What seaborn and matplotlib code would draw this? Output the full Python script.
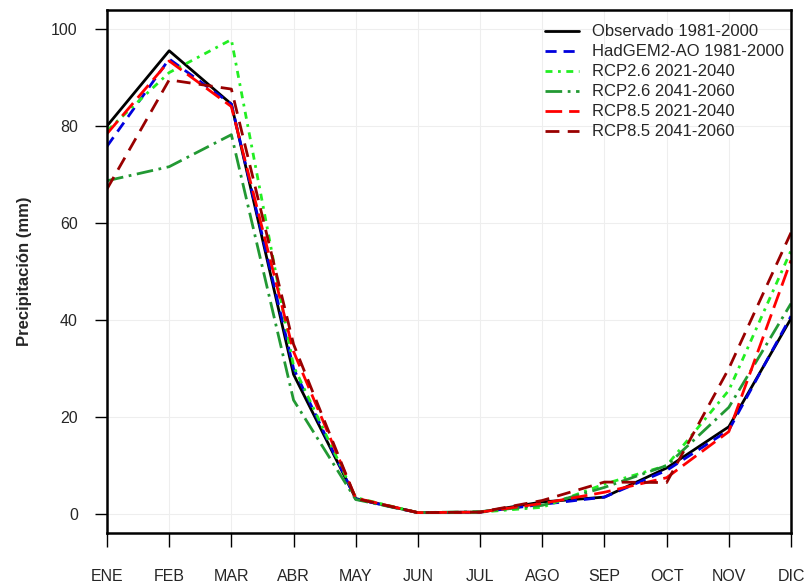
import matplotlib
matplotlib.use("Agg")
import matplotlib.pyplot as plt
import seaborn as sns
import pandas as pd

months = ["ENE", "FEB", "MAR", "ABR", "MAY", "JUN", "JUL", "AGO", "SEP", "OCT", "NOV", "DIC"]
series_names = ["Observado 1981-2000", "HadGEM2-AO 1981-2000", "RCP2.6 2021-2040",
                "RCP2.6 2041-2060", "RCP8.5 2021-2040", "RCP8.5 2041-2060"]
obs = [80.0, 95.5, 84.5, 28.8, 3.2, 0.3, 0.4, 2.5, 3.5, 9.5, 18.0, 40.3]
had = [75.8, 93.8, 84.5, 30.0, 3.1, 0.3, 0.4, 2.0, 3.5, 9.0, 17.3, 40.8]
rcp26_21 = [79.0, 91.0, 97.8, 30.5, 3.4, 0.3, 0.4, 1.4, 6.2, 10.0, 25.5, 54.3]
rcp26_41 = [68.7, 71.6, 78.2, 23.5, 3.0, 0.3, 0.5, 1.8, 5.5, 10.0, 22.0, 43.4]
rcp85_21 = [78.4, 93.4, 84.0, 33.5, 3.3, 0.3, 0.4, 2.2, 4.5, 7.5, 17.0, 52.3]
rcp85_41 = [67.0, 89.5, 87.6, 35.0, 3.2, 0.3, 0.4, 2.8, 6.6, 6.5, 30.0, 58.0]
values = [obs, had, rcp26_21, rcp26_41, rcp85_21, rcp85_41]
yticks = [0, 20, 40, 60, 80, 100]

colors = ["#000000", "#0000DD", "#22EE22", "#229933", "#FF0000", "#990000"]
dashes = ["", (4, 2.5), (2.5, 2, 1, 2), (6, 2, 1, 2), (6, 2.5), (5, 3)]

rows = []
for name, vals in zip(series_names, values):
    for i, v in enumerate(vals):
        rows.append({"mes": i, "valor": v, "serie": name})
df = pd.DataFrame(rows)

sns.set_theme(style="white")
plt.rcParams["font.family"] = ["Liberation Sans", "DejaVu Sans"]

fig = plt.figure(figsize=(8.05, 5.85), dpi=100)
ax = fig.add_axes([107/805, 1-533/585, (791-107)/805, (533-10)/585])

sns.lineplot(data=df, x="mes", y="valor", hue="serie", style="serie",
             hue_order=series_names, style_order=series_names,
             palette=dict(zip(series_names, colors)),
             dashes=dict(zip(series_names, dashes)),
             linewidth=2.0, sort=False, ax=ax, legend=True)

ax.set_xlim(0, 11)
ax.set_ylim(-3.9, 103.9)
ax.set_xticks(range(12))
ax.set_xticklabels(months)
ax.set_yticks(yticks)
ax.set_yticklabels([str(t) for t in yticks])
ax.grid(True, color="#EEEEEE", linewidth=0.8)
ax.set_axisbelow(True)
for s in ax.spines.values():
    s.set_visible(True)
    s.set_color("black")
    s.set_linewidth(1.8)
ax.tick_params(axis="x", direction="out", length=10, width=1.0, color="black",
               pad=16, labelsize=11.5, bottom=True)
ax.tick_params(axis="y", direction="out", length=9, width=1.0, color="black",
               pad=12, labelsize=11.5, left=True)
ax.set_xlabel("")
ax.set_ylabel("Precipitación (mm)", fontsize=12, fontweight="bold", labelpad=14)

handles, labels = ax.get_legend_handles_labels()
ax.legend(handles, labels, loc="upper left", bbox_to_anchor=(537/805, 1-16/585),
          bbox_transform=fig.transFigure, frameon=False, fontsize=12,
          handlelength=2.0, handletextpad=0.8, labelspacing=0.3, borderpad=0)

fig.savefig("out.png", dpi=100)
